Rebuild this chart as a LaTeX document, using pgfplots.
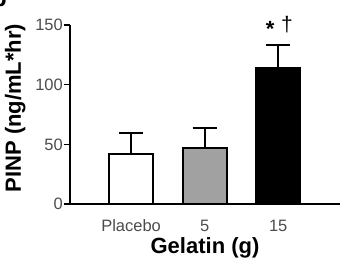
\documentclass[border=0pt]{standalone}
\usepackage{pgfplots}
\pgfplotsset{compat=1.18}
\usepackage{fontspec}
\setmainfont{Liberation Sans}
\newcommand{\tickfont}{\fontsize{16.5}{18}\selectfont}
\begin{document}
\begin{tikzpicture}[x=1pt,y=1pt]
\useasboundingbox (0,0) rectangle (347,267);
\node[anchor=base west, font=\bfseries\fontsize{24}{24}\selectfont, inner sep=0] at (-8,260) {b};
\begin{axis}[
 at={(70pt,63pt)}, anchor=south west,
 scale only axis, width=270pt, height=179pt,
 xmin=-0.83, xmax=2.84, ymin=0, ymax=150,
 clip=false,
 axis x line*=bottom, axis y line*=left,
 axis line style={line width=1.5pt},
 xtick={0,1,2}, xticklabels={Placebo,5,15},
 ytick={0,50,100,150},
 tick align=outside, major tick length=6pt,
 major x tick style={draw=none},
 tick style={line width=1.5pt, black},
 /pgf/number format/assume math mode=true,
 yticklabel style={font=\tickfont, text=black!70, inner sep=1pt},
 xticklabel style={font=\tickfont, text=black!70, anchor=base, inner sep=0pt, yshift=-21pt},
 ylabel={PINP (ng/mL*hr)}, xlabel={Gelatin (g)},
 every axis y label/.style={at={(axis description cs:-0.1815,0.536)}, rotate=90, anchor=base, font=\bfseries\fontsize{22}{24}\selectfont},
 every axis x label/.style={at={(axis description cs:0.5,-0.279)}, anchor=base, font=\bfseries\fontsize{22}{24}\selectfont},
 ybar, bar width=44pt, bar shift=0pt,
 every axis plot/.append style={line width=2pt, draw=black},
 error bars/y dir=plus, error bars/y explicit,
 error bars/error bar style={line width=2pt, black},
 error bars/error mark options={rotate=90, line width=2pt, mark size=12pt, black},
]
\addplot[fill=white] coordinates {(0,41.7) +- (0,17.5)};
\addplot[fill=black!37] coordinates {(1,46.8) +- (0,17.2)};
\addplot[fill=black] coordinates {(2,113.7) +- (0,19.6)};
\node[font=\bfseries\fontsize{22}{22}\selectfont, inner sep=0] at (axis cs:1.889,147) {*};
\node[font=\fontsize{21}{21}\selectfont, inner sep=0] at (axis cs:2.12,150) {†};
\end{axis}
\end{tikzpicture}
\end{document}
